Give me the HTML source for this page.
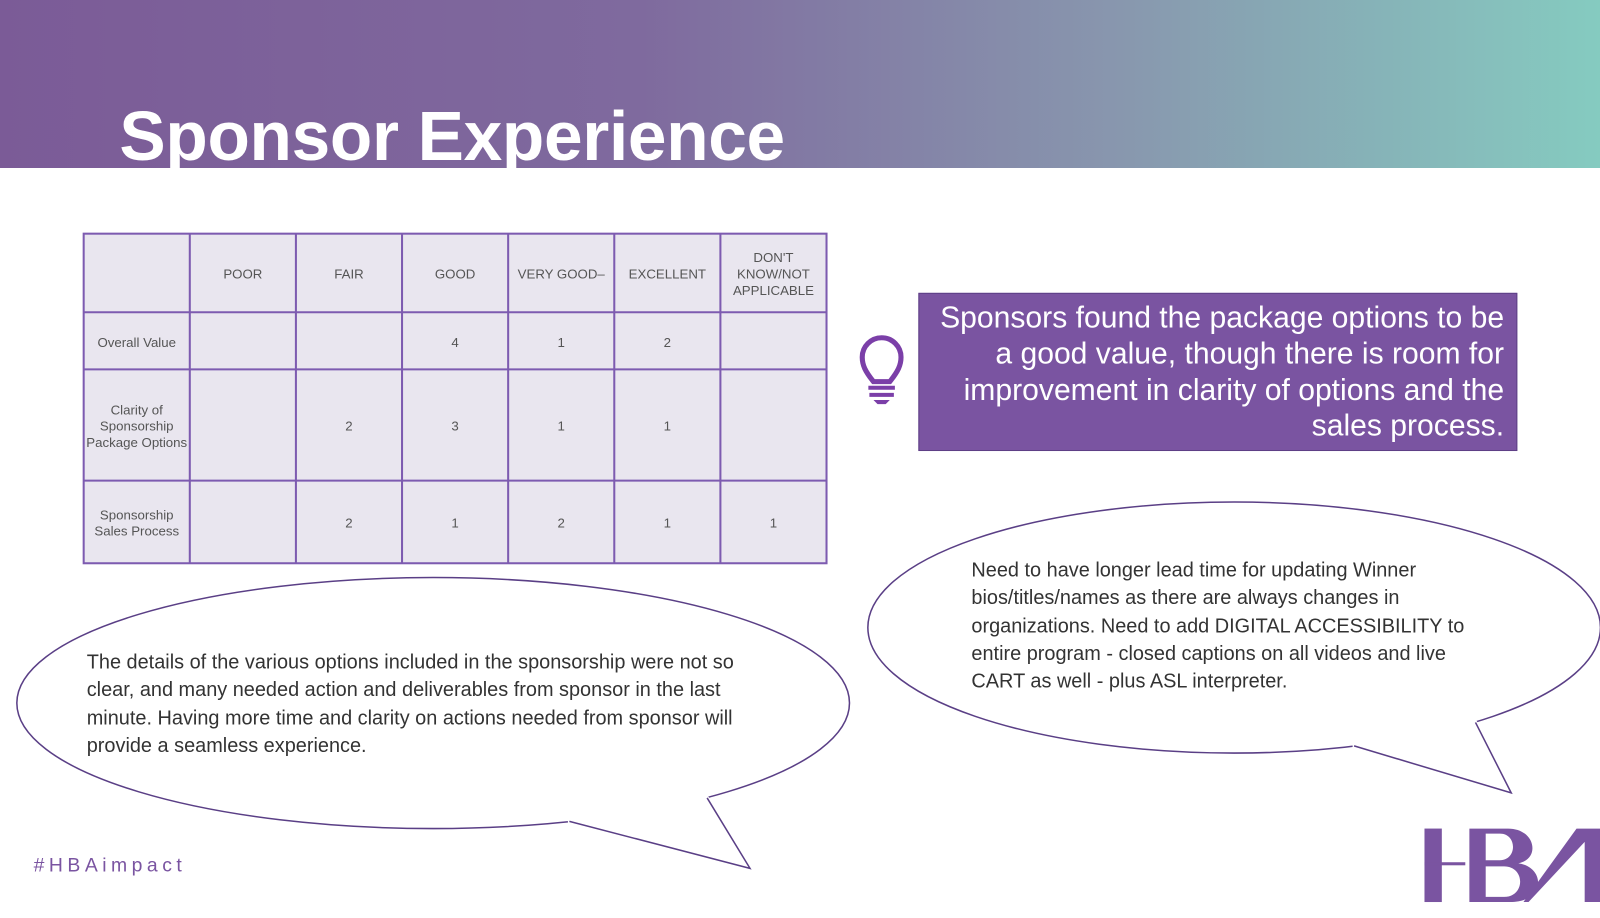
<!DOCTYPE html>
<html><head><meta charset="utf-8"><style>
html,body{margin:0;padding:0;width:1600px;height:900px;overflow:hidden;background:#fff;font-family:"Liberation Sans",sans-serif}
#hdr{position:absolute;left:0;top:0;width:1600px;height:168px;background:linear-gradient(90deg,#7b5b97 0%,#7f6a9e 40%,#8897ae 70%,#85cbc0 100%)}
#wrap{position:absolute;left:0;top:0;width:1600px;height:900px;transform:scale(1.0204);transform-origin:0 0}
#title{position:absolute;left:117px;top:95px;font-size:68px;line-height:78px;font-weight:bold;color:#fff;letter-spacing:-0.3px;white-space:nowrap}
.bt{position:absolute;font-size:19.5px;line-height:27.3px;color:#333;font-family:"Liberation Sans",sans-serif}
#box{position:absolute;left:900px;top:287px;background:#7a54a1;border:1px solid #5e3f86;color:#fff;font-size:29.5px;line-height:35.3px;text-align:right;padding:6px 12px 0 10px;box-sizing:border-box;width:587px;height:155px}
</style></head><body>
<div id="hdr"></div>
<div id="wrap">
<div id="title">Sponsor Experience</div>
<svg width="1600" height="900" style="position:absolute;left:0;top:0">
<g fill="#e9e6ef" stroke="#7d5bb0" stroke-width="2">
<rect x="82" y="229" width="728" height="323"/>
</g>
<g stroke="#7d5bb0" stroke-width="2">
<line x1="186" y1="229" x2="186" y2="552"/><line x1="290" y1="229" x2="290" y2="552"/><line x1="394" y1="229" x2="394" y2="552"/><line x1="498" y1="229" x2="498" y2="552"/><line x1="602" y1="229" x2="602" y2="552"/><line x1="706" y1="229" x2="706" y2="552"/>
<line x1="82" y1="306" x2="810" y2="306"/><line x1="82" y1="362" x2="810" y2="362"/><line x1="82" y1="471" x2="810" y2="471"/>
</g>
<g font-size="13" fill="#555" text-anchor="middle" font-family="Liberation Sans,sans-serif">
<text x="238" y="273">POOR</text><text x="342" y="273">FAIR</text><text x="446" y="273">GOOD</text><text x="550" y="273">VERY GOOD–</text><text x="654" y="273">EXCELLENT</text>
<text x="758" y="257">DON'T</text><text x="758" y="273">KNOW/NOT</text><text x="758" y="289">APPLICABLE</text>
<text x="134" y="340">Overall Value</text><text x="446" y="340">4</text><text x="550" y="340">1</text><text x="654" y="340">2</text>
<text x="134" y="406">Clarity of</text><text x="134" y="422">Sponsorship</text><text x="134" y="438">Package Options</text>
<text x="342" y="422">2</text><text x="446" y="422">3</text><text x="550" y="422">1</text><text x="654" y="422">1</text>
<text x="134" y="509">Sponsorship</text><text x="134" y="525">Sales Process</text>
<text x="342" y="517">2</text><text x="446" y="517">1</text><text x="550" y="517">2</text><text x="654" y="517">1</text><text x="758" y="517">1</text>
</g>
<g fill="#fff" stroke="#5a3f86" stroke-width="1.5">
<ellipse cx="424.5" cy="689" rx="408" ry="123"/>
<ellipse cx="1209.5" cy="615" rx="359" ry="123"/>
</g>
<g fill="#fff" stroke="#fff" stroke-width="3" stroke-linejoin="round">
<polygon points="558,805.2 580,802.7 600,800 625,796.1 650,791.5 675,786.1 693,781.6 735,851"/>
<polygon points="1327,731.2 1360,726.7 1400,719.3 1425,713.4 1446,707.5 1481,777"/>
</g>
<g fill="none" stroke="#5a3f86" stroke-width="1.5">
<polyline points="693,782 735,851 558,805"/>
<polyline points="1446,708 1481,777 1327,731"/>
</g>
<g fill="none" stroke="#7b3fa8" stroke-width="5" stroke-linecap="round">
<path d="M856,374 C848,364 845,358 845,350 A19,19 0 1 1 883,350 C883,358 880,364 872,374 Z"/>
</g>
<g stroke="#7b3fa8" stroke-width="4">
<line x1="851" y1="380" x2="877" y2="380"/><line x1="852" y1="387" x2="876" y2="387"/>
</g>
<path d="M856,392 L872,392 L868,396 L860,396 Z" fill="#7b3fa8"/>
<g fill="#7a54a1">
<rect x="1396" y="812" width="17" height="72"/>
<rect x="1396" y="845" width="40" height="3"/>
<path d="M1440,812 L1478,812 C1505,812 1510,842 1488,846 C1515,850 1515,884 1480,884 L1440,884 Z M1456,817 L1456,843 L1470,843 C1487,843 1487,817 1470,817 Z M1456,849 L1456,879 L1474,879 C1495,879 1495,849 1474,849 Z" fill-rule="evenodd"/>
<path d="M1493,884 L1545,812 L1570,812 L1570,884 L1553,884 L1553,825 L1498,884 Z"/>
</g>
<text x="33" y="854" font-size="19" fill="#7a54a1" letter-spacing="4.4" font-family="Liberation Sans,sans-serif">#HBAimpact</text>
</svg>
<div id="box">Sponsors found the package options to be a good value, though there is room for improvement in clarity of options and the sales process.</div>
<div class="bt" style="left:85px;top:636px;width:668px">The details of the various options included in the sponsorship were not so clear, and many needed action and deliverables from sponsor in the last minute. Having more time and clarity on actions needed from sponsor will provide a seamless experience.</div>
<div class="bt" style="left:952px;top:546px;width:520px">Need to have longer lead time for updating Winner bios/titles/names as there are always changes in organizations. Need to add DIGITAL ACCESSIBILITY to entire program - closed captions on all videos and live CART as well - plus ASL interpreter.</div>
</div>
</body></html>
